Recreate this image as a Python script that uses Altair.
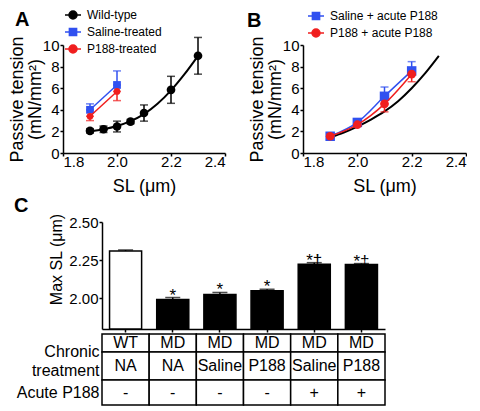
import altair as alt
import pandas as pd

FONT = "Liberation Sans"
BLUE = "#3050F0"
RED = "#F01E1E"

# ---------------- Panel A data ----------------
a_series = ["Wild-type", "Saline-treated", "P188-treated"]
wt_sl = [1.9, 1.95, 2.0, 2.05, 2.1, 2.2, 2.3]
wt_t = [2.05, 2.2, 2.45, 2.9, 3.7, 5.85, 9.0]
wt_sem = [0.2, 0.3, 0.5, 0.2, 0.75, 1.25, 1.7]
wt_fit_sl = [1.9, 1.95, 2.0, 2.05, 2.1, 2.15, 2.2, 2.25, 2.3]
wt_fit_t = [2.0, 2.2, 2.5, 2.95, 3.6, 4.55, 5.8, 7.3, 9.0]
a_sal_sl = [1.9, 2.0]
a_sal_t = [4.0, 6.3]
a_sal_sem = [0.55, 1.3]
a_p188_sl = [1.9, 2.0]
a_p188_t = [3.4, 5.7]
a_p188_sem = [0.4, 0.85]

# ---------------- Panel B data ----------------
b_series = ["Saline + acute P188", "P188 + acute P188"]
b_sl = [1.9, 2.0, 2.1, 2.2]
b_sal_t = [1.55, 2.83, 5.25, 7.6]
b_sal_sem = [0.1, 0.15, 0.86, 0.86]
b_p188_t = [1.55, 2.62, 4.55, 7.3]
b_p188_sem = [0.1, 0.15, 0.74, 0.7]
b_fit_sl = [1.9, 1.95, 2.0, 2.05, 2.1, 2.15, 2.2, 2.25, 2.3]
b_fit_t = [1.45, 1.9, 2.45, 3.1, 3.85, 4.8, 6.0, 7.4, 9.0]

# ---------------- Panel C data ----------------
c_geno = ["WT", "MD", "MD", "MD", "MD", "MD"]
c_chronic = ["NA", "NA", "Saline", "P188", "Saline", "P188"]
c_acute = ["-", "-", "-", "-", "+", "+"]
c_maxsl = [2.311, 1.993, 2.026, 2.05, 2.224, 2.222]
c_sem = [0.006, 0.013, 0.013, 0.01, 0.01, 0.006]
c_sig = ["", "*", "*", "*", "*†", "*‡"]
row_labels = ["Chronic|treatment", "Acute P188"]

CIRCLE_LINE = "M-1,0L1,0M0.5,0A0.5,0.5,0,1,1,-0.5,0A0.5,0.5,0,1,1,0.5,0Z"
SQUARE_LINE = "M-1,0L1,0M-0.45,-0.45L0.45,-0.45L0.45,0.45L-0.45,0.45Z"


def xy_enc():
    X = lambda f: alt.X(f, type="quantitative",
                        scale=alt.Scale(domain=[1.8, 2.4], nice=False, zero=False),
                        axis=alt.Axis(values=[1.8, 2.0, 2.2, 2.4], format=".1f", title="SL (μm)",
                                      labelPadding=-2, titlePadding=8))
    Y = lambda f: alt.Y(f, type="quantitative",
                        scale=alt.Scale(domain=[0, 10], nice=False),
                        axis=alt.Axis(values=[0, 2, 4, 6, 8, 10], title=["Passive tension", "(mN/mm²)"],
                                      titlePadding=-2, titleLineHeight=18))
    return X, Y


def series_layers(sl, t, lo, hi, color, shape, size, line=None):
    X, Y = xy_enc()
    df = pd.DataFrame({"sl": sl, "t": t, "lo": lo, "hi": hi})
    base = alt.Chart(df)
    layers = []
    if line is not None:
        layers.append(base.mark_line(color=color, strokeWidth=1.5, interpolate=line).encode(x=X("sl"), y=Y("t")))
    layers.append(base.mark_rule(color=color, strokeWidth=1.5).encode(x=X("sl"), y=Y("lo"), y2="hi"))
    layers.append(base.mark_tick(color=color, orient="horizontal", size=8, thickness=1.5).encode(x=X("sl"), y=Y("hi")))
    layers.append(base.mark_tick(color=color, orient="horizontal", size=8, thickness=1.5).encode(x=X("sl"), y=Y("lo")))
    if shape == "square":
        pt = base.mark_square(color=color, size=size, opacity=1)
    else:
        pt = base.mark_circle(color=color, size=size, opacity=1)
    layers.append(pt.encode(x=X("sl"), y=Y("t")))
    return layers


def legend_layer(names, colors, shapes, lx, ly):
    X, Y = xy_enc()
    df = pd.DataFrame({"series": names, "sl": [2.0] * len(names), "t": [5.0] * len(names)})
    lg = alt.Legend(orient="none", legendX=lx, legendY=ly, title=None, labelFontSize=12,
                    symbolSize=256, symbolStrokeWidth=1.5, symbolOpacity=1, rowPadding=1,
                    labelOffset=5, padding=0, labelColor="black")
    return alt.Chart(df).mark_point(filled=True, opacity=0).encode(
        x=X("sl"), y=Y("t"),
        color=alt.Color("series:N", scale=alt.Scale(domain=names, range=colors), legend=lg),
        stroke=alt.Stroke("series:N", scale=alt.Scale(domain=names, range=colors), legend=lg),
        shape=alt.Shape("series:N", scale=alt.Scale(domain=names, range=shapes), legend=lg),
    )


def fit_layer(sl, t):
    X, Y = xy_enc()
    df = pd.DataFrame({"sl": sl, "t": t})
    return alt.Chart(df).mark_line(color="black", strokeWidth=2, interpolate="monotone").encode(x=X("sl"), y=Y("t"))


# ---- Panel A ----
A_layers = [fit_layer(wt_fit_sl, wt_fit_t)]
A_layers += series_layers(wt_sl, wt_t, [a - b for a, b in zip(wt_t, wt_sem)],
                          [a + b for a, b in zip(wt_t, wt_sem)], "black", "circle", 75)
A_layers += series_layers(a_sal_sl, a_sal_t, a_sal_t, [a + b for a, b in zip(a_sal_t, a_sal_sem)],
                          BLUE, "square", 60, line="linear")
A_layers += series_layers(a_p188_sl, a_p188_t, [a - b for a, b in zip(a_p188_t, a_p188_sem)], a_p188_t,
                          RED, "circle", 45, line="linear")
A_layers.append(legend_layer(a_series, ["black", BLUE, RED], [CIRCLE_LINE, SQUARE_LINE, CIRCLE_LINE], 1, -39))
panelA = alt.layer(*A_layers).properties(
    width=162, height=108,
    title=alt.TitleParams("A", anchor="start", frame="group", fontSize=20, fontWeight="bold",
                          dx=-48, dy=24, offset=0, color="black"))

# ---- Panel B ----
B_layers = [fit_layer(b_fit_sl, b_fit_t)]
B_layers += series_layers(b_sl, b_sal_t, b_sal_t, [a + b for a, b in zip(b_sal_t, b_sal_sem)],
                          BLUE, "square", 90, line="monotone")
B_layers += series_layers(b_sl, b_p188_t, [a - b for a, b in zip(b_p188_t, b_p188_sem)], b_p188_t,
                          RED, "circle", 75, line="monotone")
B_layers.append(legend_layer(b_series, [BLUE, RED], [SQUARE_LINE, CIRCLE_LINE], 4, -38))
panelB = alt.layer(*B_layers).properties(
    width=163, height=108,
    title=alt.TitleParams("B", anchor="start", frame="group", fontSize=20, fontWeight="bold",
                          dx=-56, dy=24, offset=0, color="black"))

top = alt.hconcat(panelA, panelB, spacing=78, bounds="flush").resolve_scale(
    color="independent", stroke="independent", shape="independent")

# ---- Panel C ----
c_cols = [f"{g} {c} {a}" for g, c, a in zip(c_geno, c_chronic, c_acute)]
dfC = pd.DataFrame({"col": c_cols, "geno": c_geno, "v": c_maxsl,
                    "hi": [a + b for a, b in zip(c_maxsl, c_sem)], "sig": c_sig})
XC = alt.X("col:N", sort=c_cols, scale=alt.Scale(paddingInner=0.32, paddingOuter=0.16),
           axis=alt.Axis(labels=False, title=None, ticks=True))
YC = lambda f: alt.Y(f, type="quantitative", scale=alt.Scale(domain=[1.8, 2.5], nice=False, zero=False),
                     axis=alt.Axis(values=[2.0, 2.25, 2.5], format=".2f", title="Max SL (μm)",
                                   titleFontSize=16, titleY=37))
baseC = alt.Chart(dfC)
bars = baseC.mark_bar(stroke="black", strokeWidth=1.5).encode(
    x=XC, y=YC("v"), y2=alt.datum(1.8),
    fill=alt.condition("datum.geno == 'WT'", alt.value("white"), alt.value("black")))
errC = baseC.mark_rule(color="black", strokeWidth=1.5).encode(x=XC, y=YC("v"), y2="hi")
capC = baseC.mark_tick(color="black", orient="horizontal", size=15, thickness=1.5).encode(x=XC, y=YC("hi"))
sigC = baseC.mark_text(baseline="alphabetic", dy=3, fontSize=17, color="black").encode(
    x=XC, y=YC("hi"), text="sig:N")
panelC = alt.layer(bars, errC, capC, sigC).properties(
    width=283, height=107,
    title=alt.TitleParams("C", anchor="start", frame="group", fontSize=20, fontWeight="bold",
                          dx=-88, dy=3, offset=0, color="black"))

# ---- Table ----
dfT = pd.DataFrame({"col": c_cols, "geno": c_geno, "chronic": c_chronic, "acute": c_acute,
                    "r2": [row_labels[0]] * 6, "r3": [row_labels[1]] * 6})
XT = alt.X("col:N", sort=c_cols, scale=alt.Scale(paddingInner=0, paddingOuter=0), axis=None)


def table_row(textfield, h, yfield=None, label_offset=0):
    enc = dict(x=XT)
    if yfield is not None:
        enc["y"] = alt.Y(yfield, type="nominal", scale=alt.Scale(paddingInner=0, paddingOuter=0),
                         axis=alt.Axis(title=None, ticks=False, domain=False,
                                       labelExpr="split(datum.label, '|')", labelFontSize=16,
                                       labelPadding=3, labelLineHeight=19, labelLimit=200,
                                       labelOffset=label_offset))
    base = alt.Chart(dfT)
    cells = base.mark_rect(fill="white", stroke="black", strokeWidth=1.5).encode(**enc)
    txt = base.mark_text(fontSize=16, color="black").encode(text=f"{textfield}:N", **enc)
    return alt.layer(cells, txt).properties(width=283, height=h)


row1 = table_row("geno", 18)
row2 = table_row("chronic", 28, "r2", -14)
row3 = table_row("acute", 25, "r3")
table = alt.vconcat(row1, row2, row3, spacing=0, bounds="flush")

cblock = alt.vconcat(panelC, table, spacing=5, bounds="flush")
spacer = alt.Chart(pd.DataFrame({"v": [0]})).mark_point(opacity=0).encode(
    x=alt.value(0), y=alt.value(0)).properties(width=1, height=1)
bottom = alt.hconcat(spacer, cblock, spacing=38, bounds="flush")

chart = alt.vconcat(top, bottom, spacing=1).properties(
    padding={"left": 0, "top": -2, "right": 0, "bottom": 0}
).configure(font=FONT).configure_view(strokeWidth=0).configure_axis(
    domainColor="black", domainWidth=1.5, tickColor="black", tickWidth=1.5, tickSize=3,
    labelPadding=1, labelFontSize=15, labelColor="black", titleFontSize=18,
    titleFontWeight="normal", titleColor="black", grid=False
).configure_legend(labelFont=FONT)

chart.save("out.html", embed_options={"renderer": "svg", "actions": False})
